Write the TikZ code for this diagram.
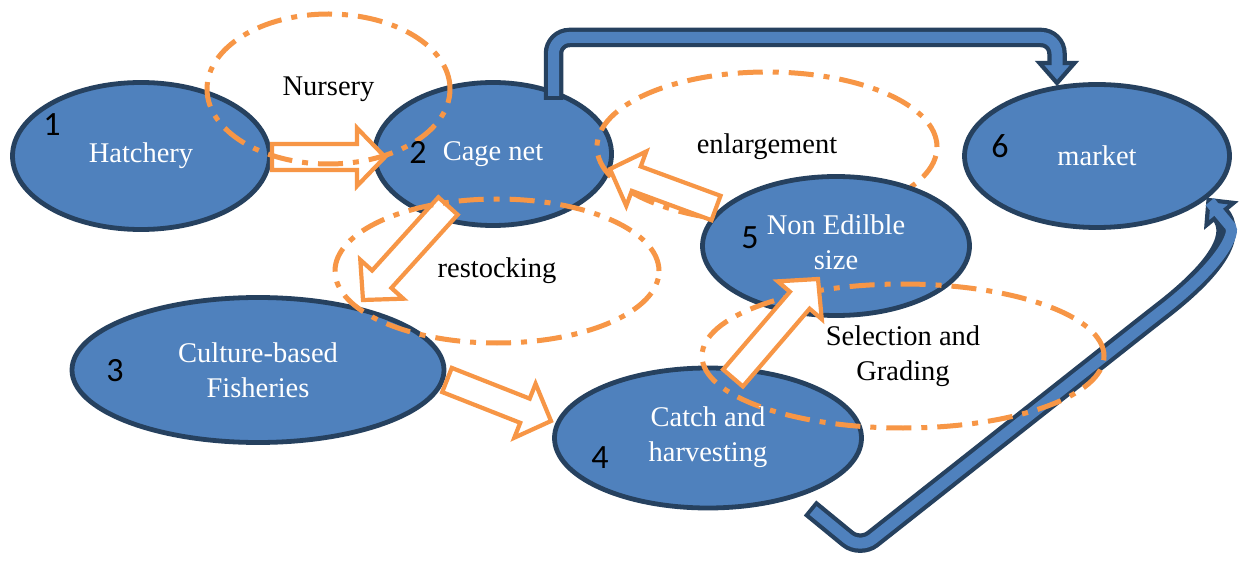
\documentclass[tikz,border=0pt]{standalone}
\usepackage{fontspec}
\setmainfont{Liberation Serif}
\newfontfamily\numfont{Carlito}
\usetikzlibrary{shapes.geometric,calc}
\definecolor{bfill}{HTML}{4F81BD}
\definecolor{bdark}{HTML}{26415F}
\definecolor{orng}{HTML}{F79646}
\tikzset{
 stage/.style={ellipse, draw=bdark, fill=bfill, line width=4.8pt, inner sep=0pt, text=white, font=\fontsize{28.5}{35}\selectfont, align=center},
 stagetext/.style={inner sep=0pt, text=white, font=\fontsize{28.5}{35}\selectfont, align=center},
 zone/.style={ellipse, draw=orng, line width=5pt, dash pattern=on 25pt off 10pt on 6pt off 10pt, inner sep=0pt, font=\fontsize{28.5}{35}\selectfont, align=center},
 numlabel/.style={font=\numfont\fontsize{34}{40}\selectfont, inner sep=0pt},
 hollow/.style={draw=orng, fill=white, line width=4.2pt, line join=miter},
 pipeout/.style={draw=bdark, line width=19.5pt},
 pipein/.style={draw=bfill, line width=11pt},
 pipehead/.style={draw=bdark, fill=bfill, line width=4.2pt, line join=miter},
}
\newcommand\hollowarrow[2]{%
 \path ($(#2)!28pt!(#1)$) coordinate (hb);
 \draw[hollow] ($(#1)!13pt!90:(#2)$) -- ($(hb)!13pt!90:(#2)$) -- ($(hb)!29pt!90:(#2)$) -- (#2) -- ($(hb)!29pt!-90:(#2)$) -- ($(hb)!13pt!-90:(#2)$) -- ($(#1)!13pt!-90:(#2)$) -- cycle;
}
\begin{document}
\begin{tikzpicture}[x=1pt,y=-1pt]
\useasboundingbox (0,0) rectangle (1239,561);
\fill[white] (0,0) rectangle (1239,561);
% main stages
\node[stage, minimum width=257pt, minimum height=147pt] (n1) at (141,156) {Hatchery};
\node[stage, minimum width=237pt, minimum height=143pt] (n2) at (493,154) {Cage net};
\node[stage, minimum width=372pt, minimum height=145pt] (n3) at (258,370) {Culture-based\\Fisheries};
\node[stage, minimum width=307pt, minimum height=140pt] (n4) at (708,438) {};
\node[stage, minimum width=265pt, minimum height=143pt] (n6) at (1097,156) {market};
\node[zone, minimum width=340pt, minimum height=150pt] (zE) at (767,147) {enlargement};
\node[stage, minimum width=267pt, minimum height=139pt] (n5) at (836,246) {};
% blue pipe 2 -> 6
\coordinate (p1a) at (553.5,100);
\coordinate (p1b) at (553.5,37.5);
\coordinate (p1c) at (1057,37.5);
\coordinate (p1h) at (1057,63);
\coordinate (p1t) at (1057,83);
\draw[pipeout, rounded corners=16pt] (p1a) -- (p1b) -- (p1c) -- ($(p1h)!-1pt!(p1t)$);
\draw[pipehead] ($(p1h)!17.5pt!90:(p1t)$) -- (p1t) -- ($(p1h)!17.5pt!-90:(p1t)$) -- cycle;
\draw[pipein, rounded corners=16pt] ($(p1a)!4pt!(p1b)$) -- (p1b) -- (p1c) -- ($(p1h)!3pt!(p1t)$);
% blue pipe 4 -> 6
\coordinate (p2a) at (810,508);
\coordinate (p2b) at (860,549);
\coordinate (p2c) at (1150,320);
\coordinate (p2h) at (1220,214);
\coordinate (p2t) at (1208.5,200);
\draw[pipeout, rounded corners=16pt] (p2a) -- (p2b) -- (p2c) .. controls (1222,264) and (1236,233) .. (p2h);
\draw[pipehead] ($(p2h)!17.5pt!90:(p2t)$) -- (p2t) -- ($(p2h)!17.5pt!-90:(p2t)$) -- cycle;
\draw[pipein, rounded corners=16pt] ($(p2a)!4pt!(p2b)$) -- (p2b) -- (p2c) .. controls (1222,264) and (1236,233) .. (p2h) -- ($(p2h)!3pt!(p2t)$);
% hollow arrows
\coordinate (a12s) at (272,157); \coordinate (a12e) at (385,157);
\coordinate (a23s) at (448,206); \coordinate (a23e) at (363,300);
\coordinate (a34s) at (447,380); \coordinate (a34e) at (551,421);
\coordinate (a52s) at (716,208); \coordinate (a52e) at (610,169);
\coordinate (a45s) at (733,378); \coordinate (a45e) at (818,279);
\hollowarrow{a12s}{a12e}
\hollowarrow{a23s}{a23e}
\hollowarrow{a34s}{a34e}
\hollowarrow{a52s}{a52e}
% zones
\node[zone, minimum width=243pt, minimum height=150pt] (zN) at (328.5,89) {Nursery};
\node[zone, minimum width=324pt, minimum height=144pt] (zR) at (497,271) {restocking};
\node[zone, minimum width=402pt, minimum height=144pt] (zS) at (903,356) {Selection and\\Grading};
\hollowarrow{a45s}{a45e}
% stage texts placed off-centre
\node[stagetext] (t4) at (708,437) {Catch and\\harvesting};
\node[stagetext] (t5) at (836,242) {Non Edilble\\size};
% numbers
\node[numlabel] (m1) at (52,125) {1};
\node[numlabel] (m2) at (418,152) {2};
\node[numlabel] (m3) at (115,371) {3};
\node[numlabel] (m4) at (600,458) {4};
\node[numlabel] (m5) at (750,238) {5};
\node[numlabel] (m6) at (1000,146) {6};
\end{tikzpicture}
\end{document}
